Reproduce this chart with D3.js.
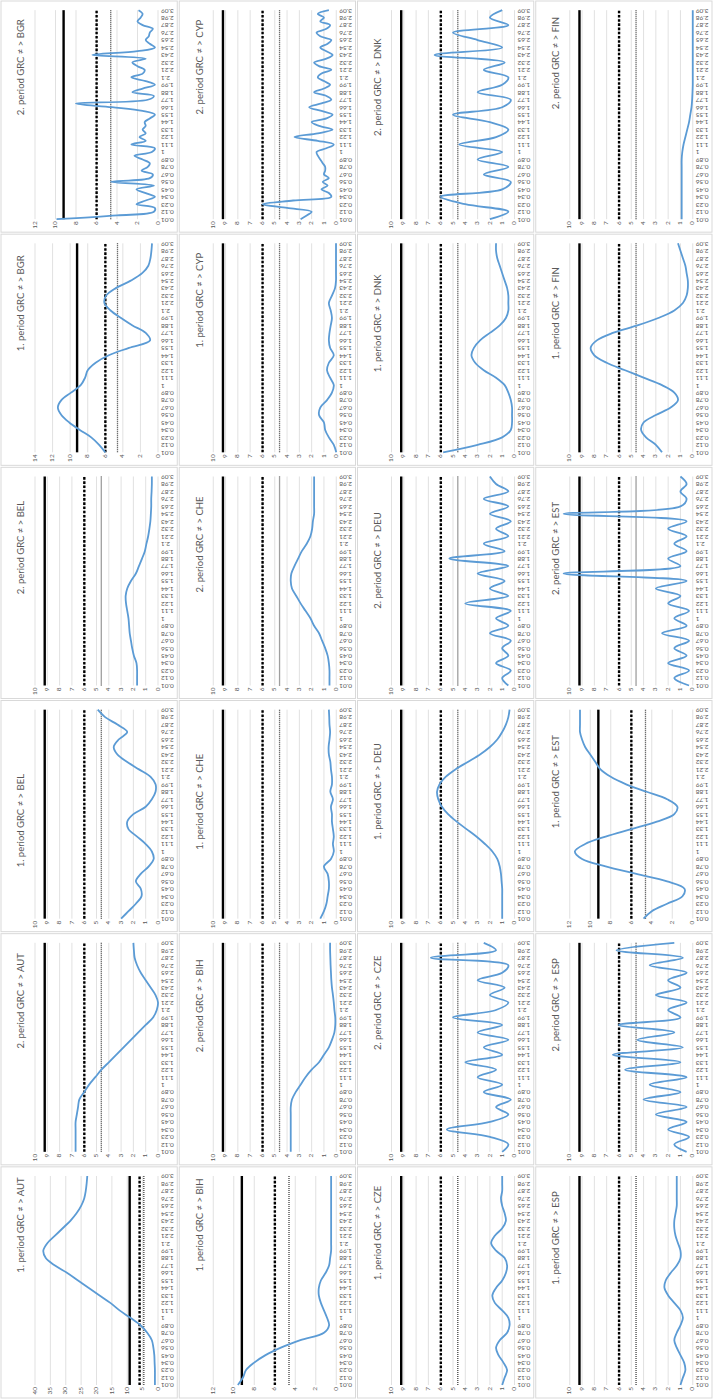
<!DOCTYPE html>
<html>
<head>
<meta charset="utf-8">
<script src="https://cdn.jsdelivr.net/npm/d3@7"></script>
<style>
  body { margin: 0; background: #fff; }
  svg text { font-family: Lato, "Open Sans", "Liberation Sans", sans-serif; }
</style>
</head>
<body>
<svg id="chart" width="713" height="1399"></svg>
<script>
// Category labels on the horizontal axis of every panel
const xTickLabels = ["0.01","0.12","0.23","0.34","0.45","0.56","0.67","0.78","0.89","1",
  "1.11","1.22","1.33","1.44","1.55","1.66","1.77","1.88","1.99","2.1",
  "2.21","2.32","2.43","2.54","2.65","2.76","2.87","2.98","3.09"];
const xTickValues = xTickLabels.map(Number);

// Partner countries, one pair of panels each (1st period, 2nd period)
const partners = ["AUT","BEL","BGR","BIH","CHE","CYP","CZE","DEU","DNK","ESP","EST","FIN"];

// Critical values drawn as reference lines: 1%, 5%, 10%
const critical1 = 9.21;
const critical5 = 5.99;
const critical10 = 4.61;

// Test statistic across frequencies, per panel
// (series with 29 values sit on the labelled frequencies, 57 values add the midpoints)
const aut1 = [1,1,1,1.1,1.2,1.5,2,3.5,5.7,9,12.5,15.5,19,22.5,26,29.5,33.5,36.5,37.3,36,33.5,31,28.5,26.5,25,24,23.5,23.2,23];
const aut2 = [6.7,6.7,6.7,6.7,6.7,6.6,6.5,6.4,6.0,5.6,5.1,4.6,4.0,3.4,2.8,2.2,1.6,1.0,0.4,0.1,0.0,0.2,0.6,1.0,1.4,1.7,1.9,1.96,2.0];
const bel1 = [3.0,2.4,1.8,1.34,1.4,1.8,1.4,0.75,0.35,0.5,1.0,1.7,2.4,2.5,2.0,1.0,0.5,0.2,0.2,0.6,1.55,2.5,3.3,3.6,3.2,2.5,3.3,4.3,4.9];
const bel2 = [1.7,1.7,1.7,1.75,1.96,2.1,2.2,2.3,2.35,2.4,2.5,2.6,2.63,2.5,2.2,1.8,1.55,1.3,1.07,0.94,0.8,0.7,0.62,0.58,0.55,0.55,0.52,0.5,0.5];
const bgr1 = [6.0,6.7,7.6,8.9,10.1,11.0,11.4,11.0,9.9,8.8,8.3,8.0,7.1,5.6,3.3,0.9,1.4,2.9,4.2,5.4,6.1,5.9,4.8,3.1,1.8,1.1,0.86,0.75,0.68];
const bgr2 = [9.9,4.0,0.4,0.3,2.1,1.2,0.3,1.2,2.1,0.4,4.6,0.8,0.5,1.6,1.0,0.8,1.5,2.3,0.6,0.3,
  2.6,1.2,1.8,1.2,1.5,1.2,1.3,0.8,0.3,1.5,4.5,8.0,1.0,0.4,2.5,1.5,0.3,1.2,2.6,1.5,
  1.3,2.0,2.5,1.2,6.4,2.0,0.3,0.8,1.2,0.9,0.8,0.5,1.5,2.0,1.7,1.5,1.9];
const bih1 = [9.6,9.1,8.8,8.0,6.9,5.4,3.5,1.2,0.7,0.9,1.2,1.5,1.7,1.7,1.5,1.05,0.7,0.6,0.5,0.5,0.5,0.5,0.5,0.5,0.5,0.5,0.5,0.5,0.5];
const bih2 = [3.7,3.7,3.7,3.7,3.7,3.7,3.7,3.6,3.3,2.9,2.5,2.0,1.4,1.0,0.6,0.35,0.15,0.08,0.08,0.15,0.2,0.27,0.35,0.4,0.43,0.46,0.48,0.5,0.5];
const che1 = [1.3,1.0,0.8,0.7,0.6,0.6,0.7,1.0,0.43,0.2,0.27,0.2,0.27,0.35,0.35,0.43,0.27,0.48,0.35,0.35,0.43,0.48,0.6,0.62,0.55,0.5,0.55,0.57,0.6];
const che2 = [0.55,0.55,0.55,0.6,0.7,0.9,1.15,1.4,1.8,2.1,2.5,2.9,3.25,3.6,3.7,3.65,3.4,3.1,2.8,2.4,2.1,1.96,1.9,1.8,1.8,1.8,1.8,1.8,1.8];
const cyp1 = [0,0.2,0.6,0.9,1.0,1.4,1.3,0.75,0.35,0.2,0.5,0.75,0.6,0.2,0.5,0.6,0.55,0.45,0.35,0.45,0.6,0.35,0.1,0.02,0.02,0.02,0.02,0.02,0.02];
const cyp2 = [2.9,2.4,2.0,4.0,6.0,3.5,0.4,0.6,1.2,0.7,1.1,0.6,1.0,0.9,0.9,1.1,1.3,1.5,1.6,0.8,
  0.2,1.5,3.4,1.5,0.3,1.4,2.0,0.8,0.3,1.2,2.2,1.2,0.4,0.8,1.8,1.0,0.5,1.0,1.5,1.2,
  0.4,1.4,1.8,0.8,0.3,0.8,1.3,0.7,0.4,1.3,1.6,0.8,0.5,1.3,1.0,1.5,0.6];
const cze1 = [1.0,0.8,0.6,0.9,1.3,1.5,1.2,0.6,0.4,0.5,1.0,1.6,1.8,1.5,1.0,0.7,0.6,0.8,1.5,1.9,1.6,1.0,0.7,0.8,1.0,1.1,1.0,1.0,1.0];
const cze2 = [1.0,0.5,2.0,5.5,2.0,0.5,1.5,0.3,2.5,1.0,3.0,1.5,4.0,1.0,2.5,0.5,3.0,1.0,5.0,1.5,0.5,2.0,0.8,3.0,1.0,0.5,6.8,1.5,2.5];
const deu1 = [1.0,1.0,1.0,1.0,1.0,1.05,1.1,1.2,1.4,1.8,2.4,3.1,3.9,4.7,5.4,5.9,6.2,6.3,6.1,5.6,4.8,3.8,2.8,2.0,1.4,1.0,0.7,0.5,0.4];
const deu2 = [0.5,1.0,0.3,1.5,0.5,1.0,0.3,2.0,0.5,1.5,0.3,4.0,0.5,2.0,0.8,3.0,0.5,5.3,0.8,2.5,0.5,1.5,0.3,2.0,0.5,2.5,0.5,1.5,2.0];
const dnk1 = [5.8,3.0,1.0,0.3,0.2,0.2,0.2,0.3,0.5,0.8,1.5,2.5,3.2,3.5,3.3,2.8,2.0,1.2,0.7,0.5,0.5,0.5,0.6,0.8,1.0,1.2,1.4,1.5,1.5];
const dnk2 = [2.0,0.5,4.0,6.0,1.0,0.3,2.5,0.5,3.0,1.0,4.5,1.5,0.5,2.0,5.0,1.0,0.3,3.0,1.0,0.5,2.5,0.8,6.5,1.0,3.0,5.0,0.5,2.0,1.0];
const esp1 = [1.0,0.8,0.6,0.7,1.0,1.3,1.5,1.3,1.0,0.8,1.0,1.5,2.0,2.3,2.2,1.8,1.3,1.0,1.0,1.2,1.4,1.5,1.5,1.4,1.3,1.3,1.3,1.3,1.3];
const esp2 = [0.5,1.5,0.3,2.0,0.5,3.0,0.5,4.0,1.0,3.5,0.5,5.5,1.0,6.5,0.8,4.5,1.5,6.0,1.0,2.0,0.5,3.0,1.0,2.0,0.5,3.5,0.8,6.2,1.5];
const est1 = [4.8,4.0,2.5,1.0,0.8,2.5,5.5,8.5,10.8,11.5,10.5,8.5,6.0,3.5,1.8,1.5,2.5,4.5,6.5,8.0,9.0,9.5,10.0,10.5,10.8,11,11,11,11];
const est2 = [0.3,1.5,0.3,2.0,0.5,1.5,0.3,2.5,0.5,1.5,0.3,2.0,1.0,3.0,0.5,10.5,1.0,2.0,0.5,1.5,0.5,2.0,0.5,10.5,1.0,0.5,1.0,0.5,1.0];
const fin1 = [2.5,3.0,3.8,4.2,4.0,3.0,1.8,1.2,1.5,2.5,4.0,5.5,7.0,8.0,8.3,7.8,6.5,4.5,2.8,1.5,0.8,0.5,0.4,0.4,0.5,0.6,0.8,1.0,1.2];
const fin2 = [0.9,0.9,0.9,0.9,0.9,0.9,0.9,0.9,0.9,0.85,0.75,0.6,0.45,0.3,0.2,0.1,0.05,0.02,0,0,0,0,0,0,0,0,0,0,0];

// Value-axis maximum and tick step for each panel
const yMaxes = [40,10,10,10,14,12, 12,10,10,10,10,10, 10,10,10,10,10,10, 10,10,12,10,10,10];
const ySteps = [5,1,1,1,2,2, 2,1,1,1,1,1, 1,1,1,1,1,1, 1,1,2,1,1,1];

const seriesList = [aut1,aut2,bel1,bel2,bgr1,bgr2, bih1,bih2,che1,che2,cyp1,cyp2,
  cze1,cze2,deu1,deu2,dnk1,dnk2, esp1,esp2,est1,est2,fin1,fin2];

// Horizontal centre of each title inside its panel (page is drawn landscape, then turned)
const titleCentres = [174,165,112,152,163,166, 174,160,131,155,166,166,
  166,163,141,139,143,146, 161,161,151,151,153,170];

const panels = seriesList.map((values, k) => {
  const partner = partners[Math.floor(k / 2) % 12];
  const period = k % 2 + 1;
  return { title: `${period}. period GRC \u2260 > ${partner}`, values, yMax: yMaxes[k], yStep: ySteps[k], titleX: titleCentres[k] };
});

const W = 1399, H = 713;           // landscape page size
const cols = 6, rows = 4;
const pw = W / cols, ph = H / rows;

const svg = d3.select("#chart");
svg.append("rect").attr("width", 713).attr("height", 1399).attr("fill", "#fff");

// Landscape page rotated a quarter turn counter-clockwise
const page = svg.append("g").attr("transform", `translate(0,${W}) rotate(-90)`);

const plotLeft = 14, plotRight = 223, plotTop = 35, plotBottom = 158;

panels.forEach((p, k) => {
  const c = k % cols, r = Math.floor(k / cols);
  const g = page.append("g").attr("transform", `translate(${c * pw},${r * ph})`);

  g.append("rect")
    .attr("x", 1).attr("y", 1).attr("width", pw - 2).attr("height", ph - 2)
    .attr("fill", "#fff").attr("stroke", "#d9d9d9").attr("stroke-width", 1);

  const x = d3.scaleLinear().domain([xTickValues[0], xTickValues[xTickValues.length - 1]]).range([plotLeft, plotRight]);
  const y = d3.scaleLinear().domain([0, p.yMax]).range([plotBottom, plotTop]);
  const yTicks = d3.range(0, p.yMax + p.yStep / 2, p.yStep);

  // value gridlines
  g.append("g").selectAll("line").data(yTicks).join("line")
    .attr("x1", plotLeft).attr("x2", plotRight)
    .attr("y1", d => y(d)).attr("y2", d => y(d))
    .attr("stroke", "#d9d9d9").attr("stroke-width", 0.8);

  // value-axis labels
  g.append("g").selectAll("text").data(yTicks).join("text")
    .attr("x", plotLeft - 2).attr("y", d => y(d))
    .attr("text-anchor", "end").attr("dominant-baseline", "middle")
    .attr("font-size", 6.5).attr("fill", "#595959")
    .text(d => d);

  // category labels, turned upright on the landscape page
  g.append("g").selectAll("text").data(xTickLabels).join("text")
    .attr("transform", (d, i) => `translate(${x(xTickValues[i])},${plotBottom + 3}) rotate(-90)`)
    .attr("text-anchor", "end").attr("dominant-baseline", "middle")
    .attr("font-size", 6.5).attr("fill", "#595959")
    .text(d => d);

  // critical value lines
  const refs = [
    { v: critical1, w: 2.4, dash: null, col: "#000" },
    { v: critical5, w: 2.4, dash: "2.6,1.6", col: "#000" },
    { v: critical10, w: 1.3, dash: "1,1", col: "#404040" }
  ];
  refs.forEach(rf => {
    g.append("line")
      .attr("x1", plotLeft).attr("x2", plotRight)
      .attr("y1", y(rf.v)).attr("y2", y(rf.v))
      .attr("stroke", rf.col).attr("stroke-width", rf.w)
      .attr("stroke-dasharray", rf.dash);
  });

  // test statistic curve
  const n = p.values.length;
  const xs = d3.range(n).map(i => xTickValues[0] + i * (xTickValues[28] - xTickValues[0]) / (n - 1));
  const line = d3.line()
    .x((d, i) => x(xs[i]))
    .y(d => y(d))
    .curve(d3.curveCatmullRom.alpha(0.5));
  g.append("path").datum(p.values)
    .attr("d", line)
    .attr("fill", "none").attr("stroke", "#5b9bd5").attr("stroke-width", 1.8)
    .attr("stroke-linejoin", "round");

  // title
  g.append("text")
    .attr("x", p.titleX).attr("y", 22)
    .attr("text-anchor", "middle").attr("dominant-baseline", "middle")
    .attr("font-size", 9.5).attr("fill", "#595959")
    .text(p.title);
});
</script>
</body>
</html>
